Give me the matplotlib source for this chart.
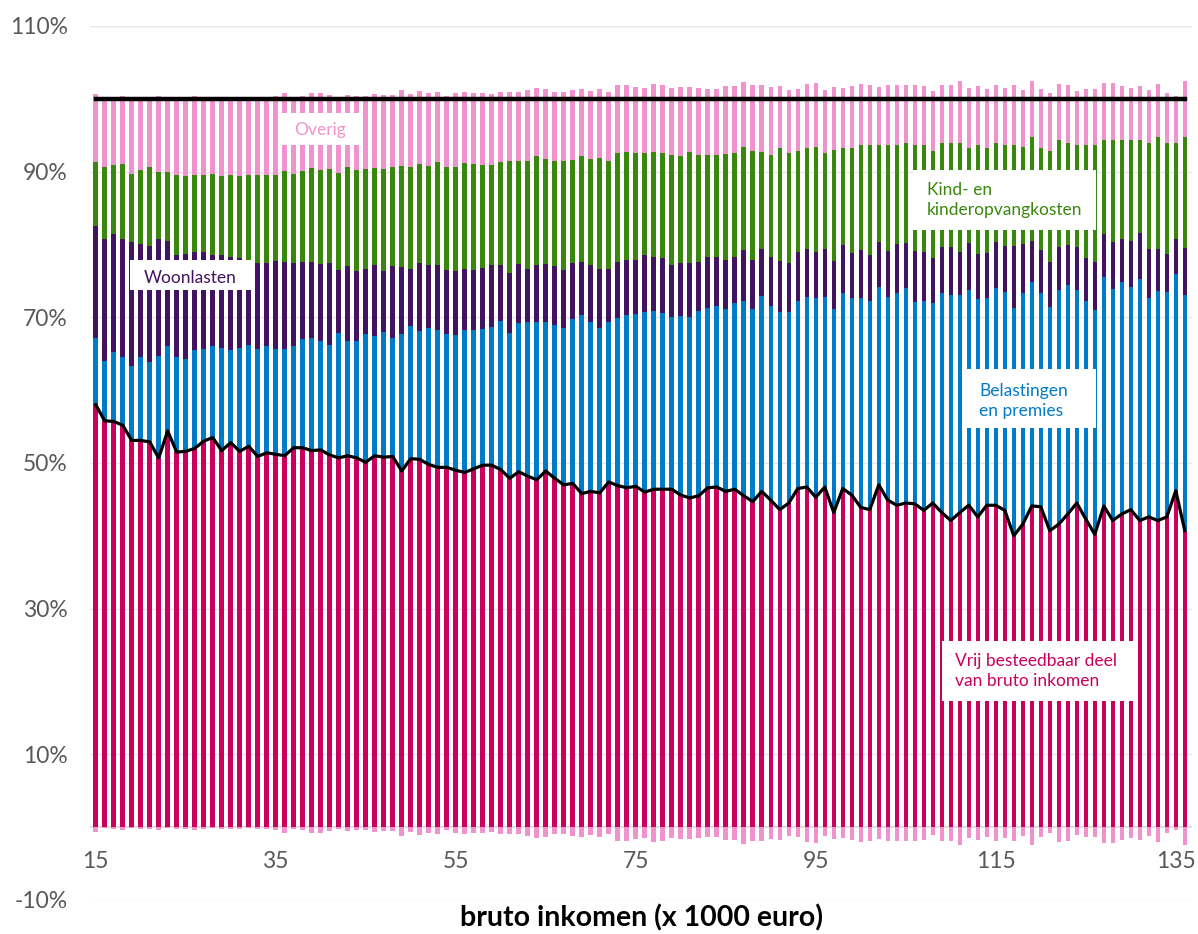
import matplotlib
matplotlib.use("Agg")
import numpy as np
import matplotlib.pyplot as plt
from matplotlib.patches import Rectangle

plt.rcParams['font.family'] = ['Lato', 'DejaVu Sans']

# bruto inkomen in duizenden euro's (een staaf per 1000 euro)
inkomen = list(range(15, 137))

# bovengrens van elke laag in de stapel (% van bruto inkomen)
cum_vrij = [58.0, 55.8, 55.7, 55.2, 53.1, 53.1, 52.9, 50.7, 54.4, 51.5, 51.6, 52.0, 53.0, 53.5, 51.7, 52.8,
            51.6, 52.3, 50.9, 51.4, 51.2, 51.0, 52.1, 52.1, 51.7, 51.8, 51.1, 50.7, 51.0, 50.7, 50.1, 51.0,
            50.8, 50.9, 48.9, 50.6, 50.5, 49.8, 49.4, 49.4, 49.0,
            48.7, 49.2, 49.7, 49.7, 49.1, 47.9, 48.8, 48.2, 47.7, 48.9, 47.9, 47.0, 47.2, 45.8, 46.1, 45.9,
            47.4, 46.9, 46.6, 46.8, 46.0, 46.4, 46.4, 46.4, 45.6, 45.2, 45.5, 46.6, 46.7, 46.1, 46.4, 45.5,
            44.7, 46.1, 44.9, 43.6, 44.5, 46.5, 46.7, 45.3, 46.7,
            43.2, 46.5, 45.6, 43.9, 43.6, 47.0, 44.9, 44.2, 44.5, 44.4, 43.5, 44.5, 43.2, 42.1, 43.2, 44.2,
            42.6, 44.2, 44.2, 43.5, 40.0, 41.6, 44.1, 44.0, 40.7, 41.6, 43.0, 44.5, 42.3, 40.2, 44.1, 42.1,
            43.0, 43.6, 42.1, 42.6, 42.1, 42.6, 46.2, 40.7]

cum_belasting = [67.1, 64.0, 65.2, 64.5, 63.3, 64.6, 63.8, 64.7, 66.0, 64.5, 64.3, 65.5, 65.7, 66.1, 65.8,
                 65.5, 65.8, 66.2, 65.6, 66.1, 65.7, 65.7, 66.1, 67.0, 67.2, 66.7, 66.2, 67.9, 66.8, 66.8,
                 67.7, 67.4, 68.0, 67.1, 67.7, 68.8, 68.1, 68.6, 68.3, 67.7, 67.6,
                 68.3, 68.3, 68.4, 68.7, 69.5, 67.9, 69.2, 69.4, 69.3, 69.3, 68.9, 68.5, 69.8, 70.3, 69.3,
                 68.6, 69.4, 69.9, 70.3, 70.5, 70.7, 70.9, 70.6, 70.0, 70.2, 70.1, 70.9, 71.3, 71.5, 71.1,
                 71.9, 72.2, 71.1, 72.9, 71.5, 70.7, 70.7, 72.3, 72.8, 72.6, 72.8,
                 71.2, 73.3, 72.6, 72.6, 72.2, 74.1, 72.8, 73.3, 74.0, 72.1, 72.2, 71.9, 73.3, 73.0, 73.1,
                 73.7, 72.5, 72.6, 74.0, 73.5, 71.3, 73.3, 74.9, 73.3, 71.4, 73.7, 74.4, 73.7, 72.3, 71.0,
                 75.6, 73.9, 74.8, 74.1, 75.2, 72.7, 73.6, 73.5, 75.9, 73.1]

cum_woon = [82.6, 80.8, 81.4, 80.8, 80.3, 80.1, 79.8, 80.7, 80.5, 78.5, 78.7, 79.0, 79.0, 78.6, 78.5, 78.3,
            78.2, 77.9, 77.4, 77.4, 77.7, 77.6, 77.4, 77.6, 77.6, 77.3, 77.4, 76.5, 77.0, 76.3, 76.7, 77.2,
            76.4, 77.1, 76.9, 76.7, 77.4, 77.2, 77.2, 76.5, 76.3,
            76.7, 76.5, 76.8, 77.2, 77.2, 76.1, 77.3, 76.7, 77.2, 77.3, 77.1, 76.5, 77.5, 77.6, 77.2, 76.6,
            76.6, 77.6, 77.9, 77.9, 78.5, 78.3, 78.1, 77.2, 77.4, 77.5, 77.6, 78.3, 78.3, 77.9, 78.3, 79.2,
            77.9, 79.4, 78.3, 77.7, 77.4, 79.0, 79.4, 79.0, 79.4,
            77.7, 79.9, 78.9, 79.3, 78.6, 80.3, 79.1, 80.1, 80.2, 79.1, 79.0, 78.2, 79.6, 79.7, 79.0, 80.2,
            78.7, 78.8, 80.3, 79.8, 79.8, 80.1, 80.5, 79.3, 77.6, 79.6, 79.9, 79.7, 78.2, 77.6, 81.5, 80.3,
            80.7, 80.5, 81.6, 79.4, 79.4, 78.7, 80.8, 79.5]

cum_kind = [91.3, 90.7, 90.9, 91.0, 89.7, 90.2, 90.6, 89.9, 90.0, 89.6, 89.4, 89.6, 89.6, 89.7, 89.4, 89.6,
            89.4, 89.6, 89.6, 89.6, 89.6, 90.1, 89.7, 90.1, 90.5, 90.2, 90.3, 89.8, 90.6, 90.2, 90.3, 90.5,
            90.3, 90.6, 90.8, 90.6, 91.1, 90.8, 91.3, 90.7, 90.7,
            91.2, 91.0, 90.9, 90.9, 91.3, 91.4, 91.4, 91.4, 92.1, 91.8, 91.5, 91.4, 91.6, 92.1, 91.7, 91.9,
            91.4, 92.6, 92.7, 92.5, 92.5, 92.7, 92.5, 92.3, 92.2, 92.7, 92.3, 92.3, 92.3, 92.4, 92.6, 93.4,
            92.9, 92.7, 92.3, 93.3, 92.6, 92.8, 93.2, 93.4, 92.6,
            93.0, 93.2, 93.3, 93.7, 93.7, 93.6, 93.7, 93.7, 94.0, 93.7, 93.6, 92.8, 93.9, 93.9, 94.0, 93.3,
            93.6, 93.3, 93.9, 93.7, 93.7, 93.4, 94.8, 93.3, 92.9, 94.3, 94.0, 93.7, 93.7, 93.7, 94.3, 94.4,
            94.4, 94.4, 94.3, 94.0, 94.8, 94.0, 93.9, 94.8]

cum_overig = [100.6, 100.15, 100.2, 100.45, 100.15, 100.25, 100.3, 100.4, 100.1, 100.2, 100.3, 100.35,
              100.2, 100.05, 100.2, 100.2, 100.2, 100.05, 100.3, 100.2, 100.35, 100.75, 100.2, 100.4,
              100.85, 100.8, 100.5, 100.3, 100.5, 100.45, 100.45, 100.7, 100.5, 100.5, 101.2, 100.6,
              101.1, 100.75, 101.0, 100.45, 100.85,
              101.0, 100.85, 100.85, 100.6, 101.0, 101.0, 101.0, 101.2, 101.55, 101.35, 101.0, 100.9,
              101.25, 101.4, 101.1, 101.3, 101.0, 101.85, 101.85, 101.65, 101.5, 102.0, 101.85, 101.5,
              101.6, 101.6, 101.45, 101.4, 101.4, 101.7, 101.8, 102.3, 101.85, 101.95, 101.6, 101.8,
              101.2, 101.4, 102.0, 102.15, 101.2,
              101.6, 101.5, 101.75, 102.1, 101.9, 101.65, 101.85, 101.9, 101.9, 101.9, 101.75, 101.05,
              101.85, 101.85, 102.4, 101.45, 101.75, 101.4, 101.85, 101.5, 101.9, 101.2, 102.45, 101.3,
              100.75, 102.0, 101.85, 101.1, 101.3, 101.3, 102.2, 102.2, 101.7, 101.5, 101.7, 101.25,
              102.1, 100.8, 100.45, 102.4]

# negatief deel van 'overig' (onder de nul-lijn)
overig_neg = [-0.6, -0.15, -0.2, -0.45, -0.15, -0.25, -0.3, -0.4, -0.1, -0.2, -0.3, -0.35, -0.2, -0.05,
              -0.2, -0.2, -0.2, -0.05, -0.3, -0.2, -0.35, -0.75, -0.2, -0.4, -0.85, -0.8, -0.5, -0.3,
              -0.5, -0.45, -0.45, -0.7, -0.5, -0.5, -1.2, -0.6, -1.1, -0.75, -1.0, -0.45, -0.85,
              -1.0, -0.85, -0.85, -0.6, -1.0, -1.0, -1.0, -1.2, -1.55, -1.35, -1.0, -0.9, -1.25, -1.4,
              -1.1, -1.3, -1.0, -1.85, -1.85, -1.65, -1.5, -2.0, -1.85, -1.5, -1.6, -1.6, -1.45, -1.4,
              -1.4, -1.7, -1.8, -2.3, -1.85, -1.95, -1.6, -1.8, -1.2, -1.4, -2.0, -2.15, -1.2,
              -1.6, -1.5, -1.75, -2.1, -1.9, -1.65, -1.85, -1.9, -1.9, -1.9, -1.75, -1.05, -1.85, -1.85,
              -2.4, -1.45, -1.75, -1.4, -1.85, -1.5, -1.9, -1.2, -2.45, -1.3, -0.75, -2.0, -1.85, -1.1,
              -1.3, -1.3, -2.2, -2.2, -1.7, -1.5, -1.7, -1.25, -2.1, -0.8, -0.45, -2.4]

totaal = [100] * len(inkomen)

kleuren = ['#CA005D', '#007BC7', '#42145F', '#39870C', '#F092CD']
y_ticks = [-10, 10, 30, 50, 70, 90, 110]
x_ticks = [15, 35, 55, 75, 95, 115, 135]

W, H = 1198, 934


def fx(px):
    return px / W


def fy(py):
    return 1 - py / H


fig = plt.figure(figsize=(W / 100, H / 100), dpi=100)
ax = fig.add_axes([fx(90), fy(900), fx(1192) - fx(90), fy(26) - fy(900)])
ax.set_xlim(14.37, 136.8)
ax.set_ylim(-10, 110)

# gestapelde staven
breedte = 0.5
onder = np.zeros(len(inkomen))
for boven, kleur in zip([cum_vrij, cum_belasting, cum_woon, cum_kind, cum_overig], kleuren):
    boven = np.array(boven)
    ax.bar(inkomen, boven - onder, bottom=onder, width=breedte, color=kleur, zorder=2, linewidth=0)
    onder = boven
ax.bar(inkomen, overig_neg, width=breedte, color=kleuren[4], zorder=2, linewidth=0)

# lijnen
ax.plot(inkomen, cum_vrij, color='black', lw=2.3, zorder=3)
ax.plot(inkomen, totaal, color='black', lw=3.2, zorder=3)
ax.axhline(0, color='#d9d9d9', lw=1.2, zorder=1)

# assen
ax.set_yticks(y_ticks)
ax.set_yticklabels([f'{v}%' for v in y_ticks])
ax.set_xticks(x_ticks)
ax.yaxis.grid(True, color='#e6e6e6', lw=1)
ax.set_axisbelow(True)
for s in ax.spines.values():
    s.set_visible(False)
ax.spines['bottom'].set_position(('data', 0))
ax.tick_params(axis='y', length=0, pad=16, labelsize=16.5, labelcolor='#595959')
ax.tick_params(axis='x', length=0, pad=17, labelsize=16.5, labelcolor='#595959')

fig.text(fx(641), fy(918), 'bruto inkomen (x 1000 euro)', ha='center', va='center',
         fontsize=20.5, fontweight='bold', color='black')

# labels met witte achtergrond
labels = [
    ('Overig', (279, 113, 359, 145), (320, 130), 'center', kleuren[4]),
    ('Woonlasten', (130, 260, 252, 290), (190, 278), 'center', kleuren[2]),
    ('Kind- en\nkinderopvangkosten', (913, 170, 1096, 230), (927, 200), 'left', kleuren[3]),
    ('Belastingen\nen premies', (963, 369, 1096, 428), (979, 401), 'left', kleuren[1]),
    ('Vrij besteedbaar deel\nvan bruto inkomen', (942, 641, 1133, 701), (955, 671), 'left', kleuren[0]),
]
for tekst, (x0, y0, x1, y1), (tx, ty), ha, kleur in labels:
    fig.add_artist(Rectangle((fx(x0), fy(y1)), fx(x1) - fx(x0), fy(y0) - fy(y1),
                             transform=fig.transFigure, facecolor='white', edgecolor='none', zorder=5))
    fig.text(fx(tx), fy(ty), tekst, ha=ha, va='center', fontsize=12.5, color=kleur,
             linespacing=1.3, zorder=6)

fig.savefig('out.png', dpi=100)
